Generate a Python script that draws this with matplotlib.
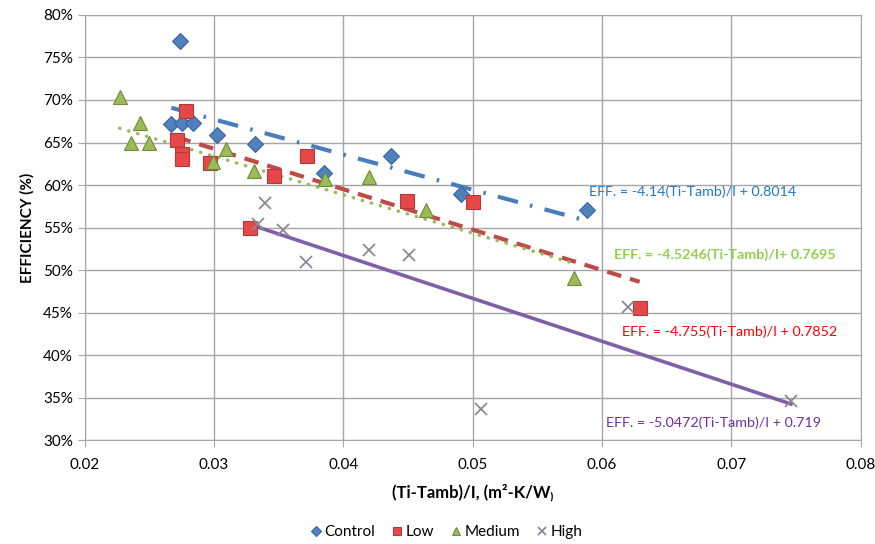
import numpy as np
import matplotlib
matplotlib.use("Agg")
import matplotlib.pyplot as plt
from matplotlib.ticker import PercentFormatter, MultipleLocator

plt.rcParams["font.family"] = ["Lato", "DejaVu Sans"]

# data: x = (Ti-Tamb)/I, y = efficiency (fraction)
control_x = [0.02735, 0.0267, 0.0275, 0.0284, 0.0302, 0.0332, 0.0385, 0.0437, 0.0491, 0.0588]
control_y = [0.769, 0.672, 0.673, 0.673, 0.659, 0.648, 0.614, 0.634, 0.589, 0.571]

low_x = [0.0278, 0.0271, 0.0275, 0.0275, 0.0297, 0.0328, 0.0346, 0.0372, 0.0449, 0.0500, 0.0629]
low_y = [0.687, 0.653, 0.637, 0.631, 0.626, 0.550, 0.611, 0.634, 0.581, 0.580, 0.455]

medium_x = [0.0227, 0.0243, 0.0236, 0.0250, 0.0309, 0.0299, 0.0331, 0.0386, 0.0420, 0.0464, 0.0578]
medium_y = [0.704, 0.673, 0.649, 0.649, 0.642, 0.627, 0.617, 0.607, 0.610, 0.571, 0.491]

high_x = [0.0339, 0.0334, 0.0353, 0.0371, 0.0420, 0.0451, 0.0506, 0.0620, 0.0746]
high_y = [0.5785, 0.554, 0.547, 0.510, 0.524, 0.518, 0.337, 0.456, 0.346]

# trendline coefficients (slope, intercept) from the chart labels
control_fit = (-4.14, 0.8014)
low_fit = (-4.755, 0.7852)
medium_fit = (-4.5246, 0.7695)
high_fit = (-5.0472, 0.719)

fig = plt.figure(figsize=(8.75, 5.44), dpi=100)
ax = fig.add_axes([0.0968, 0.191, 0.887, 0.7815])


def trend(xs, fit):
    xx = np.array([min(xs), max(xs)])
    return xx, fit[0] * xx + fit[1]


# trendlines
xx, yy = trend(control_x, control_fit)
ax.plot(xx, yy, color="#4A7EBB", lw=3, dashes=(5, 3, 0.6, 3), zorder=2)
xx, yy = trend(low_x, low_fit)
ax.plot(xx, yy, color="#BE4B48", lw=3, dashes=(3.5, 2.2), zorder=2)
xx, yy = trend(medium_x, medium_fit)
ax.plot(xx, yy, color="#9BBB59", lw=2.5, dashes=(0.1, 2.6), dash_capstyle="round", zorder=2)
xx, yy = trend(high_x, high_fit)
ax.plot(xx, yy, color="#7F5FA6", lw=2.6, zorder=2)

# markers
ax.plot(control_x, control_y, ls="none", marker="D", ms=8.5, mfc="#4F81BD", mec="#3A64A0",
        mew=0.8, label="Control", zorder=3)
ax.plot(low_x, low_y, ls="none", marker="s", ms=9.5, mfc="#E8474A", mec="#B03A3A",
        mew=0.8, label="Low", zorder=3)
ax.plot(medium_x, medium_y, ls="none", marker="^", ms=10, mfc="#9BBB59", mec="#6E8A3A",
        mew=0.8, label="Medium", zorder=3)
ax.plot(high_x, high_y, ls="none", marker="x", ms=9, mec="#8A8A96", mew=1.3,
        label="High", zorder=3)

# equation labels
ax.text(0.0590, 0.592, "EFF. = -4.14(Ti-Tamb)/I + 0.8014", color="#1F78C8", fontsize=10.3,
        va="center", ha="left")
ax.text(0.06095, 0.518, "EFF. = -4.5246(Ti-Tamb)/I+ 0.7695", color="#92D050", fontsize=10.3,
        fontweight="bold", va="center", ha="left")
ax.text(0.06157, 0.428, "EFF. = -4.755(Ti-Tamb)/I + 0.7852", color="#FF0000", fontsize=10.3,
        va="center", ha="left")
ax.text(0.06033, 0.321, "EFF. = -5.0472(Ti-Tamb)/I + 0.719", color="#7030A0", fontsize=10.3,
        va="center", ha="left")

ax.set_xlim(0.02, 0.08)
ax.set_ylim(0.30, 0.80)
ax.xaxis.set_major_locator(MultipleLocator(0.01))
ax.yaxis.set_major_locator(MultipleLocator(0.05))
ax.yaxis.set_major_formatter(PercentFormatter(1.0, decimals=0))
ax.xaxis.set_major_formatter(plt.FuncFormatter(lambda v, p: f"{v:.2f}"))

ax.grid(True, color="#A6A6A6", lw=1)
ax.set_axisbelow(True)
for side in ["left", "bottom", "top", "right"]:
    ax.spines[side].set_color("#A6A6A6")
ax.tick_params(axis="both", direction="out", length=5, color="#A6A6A6", labelsize=11,
               labelcolor="#000000")
ax.tick_params(axis="x", pad=8)

ax.set_xlabel("(Ti-Tamb)/I, (m²-K/W₎", fontsize=12, fontweight="bold", labelpad=8)
ax.set_ylabel("EFFICIENCY (%)", fontsize=11, fontweight="bold", labelpad=6)

ax.legend(loc="center", bbox_to_anchor=(0.465, -0.217), ncol=4, frameon=False,
          fontsize=11, handletextpad=0.1, columnspacing=1.0, handlelength=0.9,
          markerscale=0.6)

fig.savefig("out.png", dpi=100)
